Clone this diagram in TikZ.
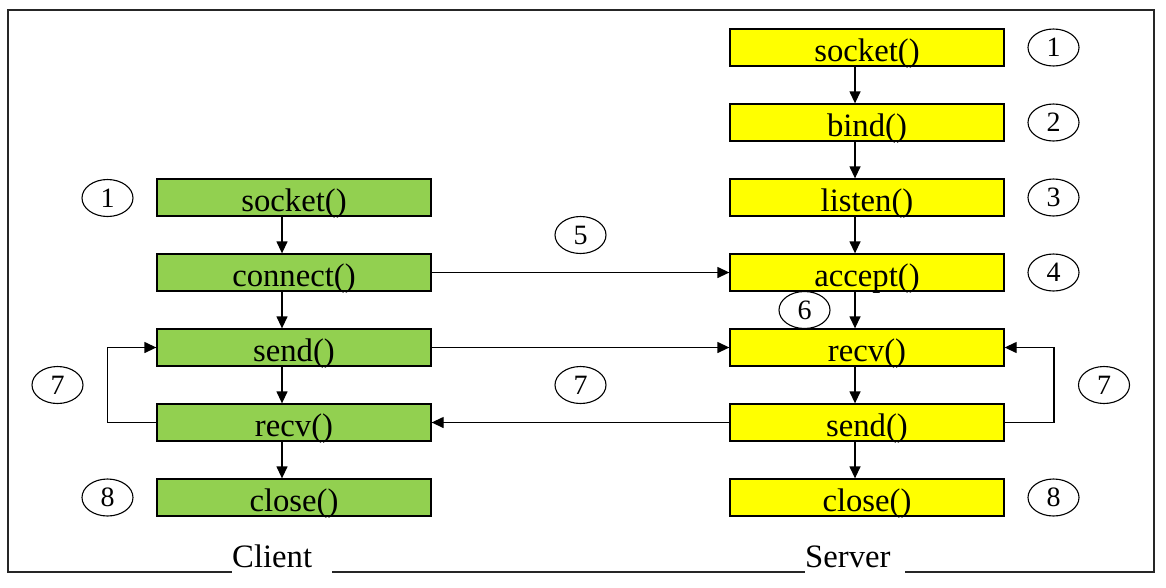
\documentclass[tikz,border=0pt]{standalone}
\usepackage{fontspec}
\setmainfont{Liberation Serif}
\usetikzlibrary{arrows.meta,shapes.geometric}
\definecolor{cgreen}{HTML}{92D050}
\definecolor{syellow}{HTML}{FFFF00}
\tikzset{
  fbox/.style={draw=black, line width=1.3pt, minimum width=274pt, minimum height=37pt,
    inner sep=0pt, text height=32pt, text depth=5pt,
    font=\fontsize{32.7}{36}\selectfont},
  cbox/.style={fbox, fill=cgreen},
  sbox/.style={fbox, fill=syellow},
  num/.style={draw=black, line width=1.1pt, ellipse, minimum width=51pt, minimum height=37pt,
    inner sep=0pt, font=\fontsize{28}{30}\selectfont},
  arr/.style={line width=1.3pt, -{Triangle[length=12pt,width=11pt]}},
  lbl/.style={fill=white, inner sep=0pt, text width=100pt, align=left, text depth=8pt,
    font=\fontsize{32.7}{36}\selectfont}
}
\begin{document}
\begin{tikzpicture}[x=1pt,y=-1pt]
\useasboundingbox (0,0) rectangle (1166,587);
\draw[line width=1.7pt, draw=black!85] (8,10) rectangle (1154,572);
% client
\node[cbox] (cs) at (294,197.5) {socket()};
\node[cbox] (cc) at (294,272.5) {connect()};
\node[cbox] (cd) at (294,347.5) {send()};
\node[cbox] (cr) at (294,422.5) {recv()};
\node[cbox] (cx) at (294,497.5) {close()};
% server
\node[sbox] (ss) at (867,47.5) {socket()};
\node[sbox] (sb) at (867,122.5) {bind()};
\node[sbox] (sl) at (867,197.5) {listen()};
\node[sbox] (sa) at (867,272.5) {accept()};
\node[sbox] (sr) at (867,347.5) {recv()};
\node[sbox] (sd) at (867,422.5) {send()};
\node[sbox] (sx) at (867,497.5) {close()};
% numbers
\node[num] (n1c) at (107.5,198) {1};
\node[num] (n7c) at (57.5,385) {7};
\node[num] (n8c) at (107.5,497.5) {8};
\node[num] (n1s) at (1053.5,47.5) {1};
\node[num] (n2s) at (1053.5,122.5) {2};
\node[num] (n3s) at (1053.5,197.5) {3};
\node[num] (n4s) at (1053.5,272.5) {4};
\node[num] (n8s) at (1053.5,497.5) {8};
\node[num] (n7s) at (1104,385) {7};
\node[num] (n5) at (580.5,235) {5};
\node[num] (n7m) at (580.5,385) {7};
\node[num] (n6) at (804.5,310) {6};
% vertical arrows
\draw[arr] ([xshift=-12pt]cs.south) -- ([xshift=-12pt]cc.north);
\draw[arr] ([xshift=-12pt]cc.south) -- ([xshift=-12pt]cd.north);
\draw[arr] ([xshift=-12pt]cd.south) -- ([xshift=-12pt]cr.north);
\draw[arr] ([xshift=-12pt]cr.south) -- ([xshift=-12pt]cx.north);
\draw[arr] ([xshift=-12pt]ss.south) -- ([xshift=-12pt]sb.north);
\draw[arr] ([xshift=-12pt]sb.south) -- ([xshift=-12pt]sl.north);
\draw[arr] ([xshift=-12pt]sl.south) -- ([xshift=-12pt]sa.north);
\draw[arr] ([xshift=-12pt]sa.south) -- ([xshift=-12pt]sr.north);
\draw[arr] ([xshift=-12pt]sr.south) -- ([xshift=-12pt]sd.north);
\draw[arr] ([xshift=-12pt]sd.south) -- ([xshift=-12pt]sx.north);
% horizontal arrows
\draw[arr] (cc.east) -- (sa.west);
\draw[arr] (cd.east) -- (sr.west);
\draw[arr] (sd.west) -- (cr.east);
% loops
\coordinate (lc) at (107.5,0);
\coordinate (ls) at (1054,0);
\draw[arr] (cr.west) -- (cr.west -| lc) -- (cd.west -| lc) -- (cd.west);
\draw[arr] (sd.east) -- (sd.east -| ls) -- (sr.east -| ls) -- (sr.east);
% labels
\node[lbl, anchor=base west] (client) at (232,567) {Client};
\node[lbl, anchor=base west] (server) at (805,567) {Server};
\end{tikzpicture}
\end{document}
